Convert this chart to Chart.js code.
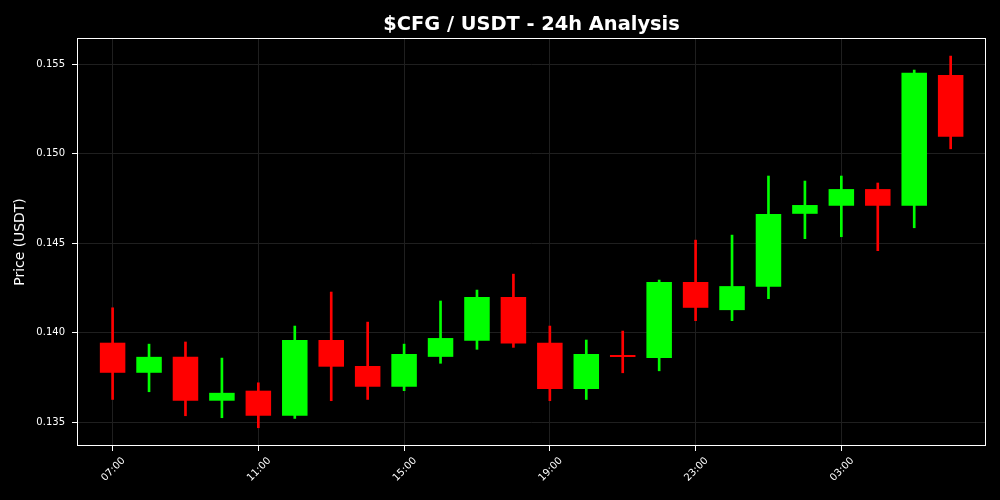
<!DOCTYPE html>
<html>
<head>
<meta charset="utf-8">
<script src="https://cdn.jsdelivr.net/npm/chart.js@4.4.1/dist/chart.umd.min.js"></script>
<style>
  html, body { margin:0; padding:0; background:#000; }
  #wrap { width:1000px; height:500px; }
</style>
</head>
<body>
<div id="wrap"><canvas id="chart" width="1000" height="500"></canvas></div>
<script>
// 시간(캔들) 라벨
const hours = ['07:00','08:00','09:00','10:00','11:00','12:00','13:00','14:00',
               '15:00','16:00','17:00','18:00','19:00','20:00','21:00','22:00',
               '23:00','00:00','01:00','02:00','03:00','04:00','05:00','06:00'];

// OHLC 값
const opens  = [0.13945,0.13777,0.13866,0.13621,0.13677,0.13537,0.13960,0.13815,
                0.13699,0.13866,0.13956,0.14200,0.13945,0.13686,0.13866,0.13859,
                0.14284,0.14127,0.14258,0.14665,0.14710,0.14803,0.14710,0.15440];
const highs  = [0.14140,0.13937,0.13949,0.13859,0.13721,0.14038,0.14228,0.14060,
                0.13937,0.14178,0.14239,0.14328,0.14038,0.13960,0.14010,0.14295,
                0.14518,0.14546,0.14876,0.14848,0.14876,0.14837,0.15468,0.15546];
const lows   = [0.13628,0.13671,0.13537,0.13526,0.13470,0.13522,0.13621,0.13628,
                0.13677,0.13830,0.13908,0.13919,0.13621,0.13628,0.13777,0.13788,
                0.14068,0.14068,0.14191,0.14526,0.14537,0.14459,0.14587,0.15028];
const closes = [0.13777,0.13866,0.13621,0.13665,0.13537,0.13960,0.13811,0.13699,
                0.13882,0.13971,0.14200,0.13941,0.13686,0.13882,0.13865,0.14284,
                0.14140,0.14261,0.14664,0.14714,0.14803,0.14710,0.15453,0.15096];

// 축 눈금
const xTickIdx = [0, 4, 8, 12, 16, 20];
const yTicks = [0.135, 0.140, 0.145, 0.150, 0.155];

const UP = '#00ff00', DOWN = '#ff0000';
const colorAt = i => closes[i] > opens[i] ? UP : DOWN;

const bodies = hours.map((h,i)=>({ x:i, y:[opens[i], closes[i]] }));
const wicks  = hours.map((h,i)=>({ x:i, y:[lows[i], highs[i]] }));

// 플롯 테두리 + 제목
const framePlugin = {
  id: 'frame',
  afterDatasetsDraw(chart){
    const {ctx, chartArea:a} = chart;
    ctx.save();
    ctx.strokeStyle = '#ffffff';
    ctx.lineWidth = 1;
    ctx.strokeRect(a.left + 0.5, a.top + 0.5, a.right - a.left - 1, a.bottom - a.top - 1);
    ctx.restore();
  },
  afterDraw(chart){
    const {ctx, chartArea:a} = chart;
    ctx.save();
    ctx.fillStyle = '#ffffff';
    ctx.font = 'bold 19.4px "DejaVu Sans"';
    ctx.textAlign = 'center';
    ctx.textBaseline = 'alphabetic';
    ctx.fillText('$CFG / USDT - 24h Analysis', (a.left + a.right) / 2, 30);
    ctx.restore();
  }
};

Chart.defaults.font.family = '"DejaVu Sans", sans-serif';
Chart.defaults.color = '#ffffff';

new Chart(document.getElementById('chart').getContext('2d'), {
  type: 'bar',
  data: {
    datasets: [{
      label: 'body',
      data: bodies,
      backgroundColor: c => colorAt(c.dataIndex),
      barPercentage: 0.7,
      categoryPercentage: 1,
      minBarLength: 2,
      grouped: false,
      order: 0
    },{
      label: 'wick',
      data: wicks,
      backgroundColor: c => colorAt(c.dataIndex),
      barThickness: 2,
      grouped: false,
      order: 1
    }]
  },
  plugins: [framePlugin],
  options: {
    responsive: false,
    animation: false,
    devicePixelRatio: 1,
    layout: { padding: { top: 38, right: 14, left: 0, bottom: 0 } },
    plugins: { legend: { display:false }, tooltip: { enabled:false }, title: { display:false } },
    scales: {
      x: {
        type: 'linear',
        offset: false,
        min: -0.977, max: 23.97,
        afterBuildTicks: s => { s.ticks = xTickIdx.map(v=>({ value:v })); },
        afterFit: s => { s.height = 54; },
        grid: { color:'#1f1f1f', tickColor:'#ffffff', tickLength:5, drawTicks:true, offset:false },
        border: { display:false },
        ticks: {
          color:'#ffffff', font:{ size:10 },
          maxRotation:45, minRotation:45, autoSkip:false,
          labelOffset: 11, padding: 4,
          callback: v => hours[v]
        }
      },
      y: {
        min: 0.13368, max: 0.15647,
        afterBuildTicks: s => { s.ticks = yTicks.map(v=>({ value:v })); },
        afterFit: s => { s.width = 77; },
        grid: { color:'#1f1f1f', tickColor:'#ffffff', tickLength:5, drawTicks:true },
        border: { display:false },
        ticks: { color:'#ffffff', font:{ size:10 }, padding:7, callback: v => v.toFixed(3) },
        title: { display:true, text:'Price (USDT)', color:'#ffffff', font:{ size:13.9 }, padding:{ top:12, bottom:0 } }
      }
    }
  }
});
</script>
</body>
</html>
